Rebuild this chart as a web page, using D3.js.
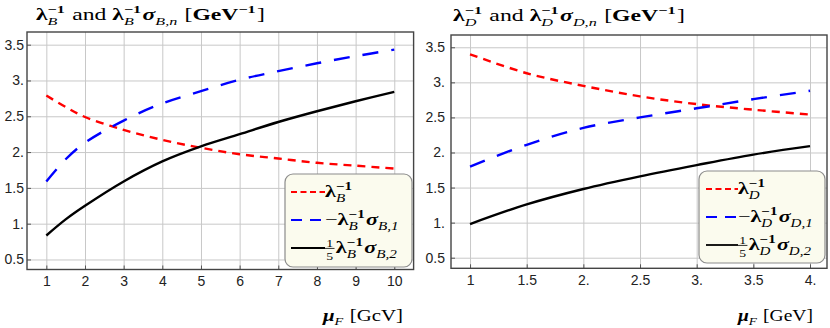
<!DOCTYPE html>
<html><head><meta charset="utf-8">
<script src="https://cdn.jsdelivr.net/npm/d3@7"></script>
<style>
html,body{margin:0;padding:0;background:#fff;}
svg{display:block;}
text{white-space:pre;}
</style>
</head><body>
<svg id="chart" width="830" height="328"></svg>
<script>
// ---------- DATA ----------
const muB = [1, 1.5, 2, 3, 4, 5, 6, 7, 8, 9, 10];
const lamB = [2.79, 2.63, 2.49, 2.31, 2.17, 2.06, 1.97, 1.91, 1.85, 1.81, 1.77];
const sigB1 = [1.59, 1.90, 2.13, 2.44, 2.68, 2.85, 3.01, 3.13, 3.24, 3.34, 3.43];
const sigB2 = [0.835, 1.06, 1.25, 1.59, 1.87, 2.08, 2.25, 2.42, 2.57, 2.71, 2.84];

const muD = [1, 1.5, 2, 2.5, 3, 3.5, 4];
const lamD = [3.40, 3.13, 2.95, 2.80, 2.69, 2.61, 2.54];
const sigD1 = [1.80, 2.11, 2.35, 2.50, 2.63, 2.76, 2.88];
const sigD2 = [0.98, 1.26, 1.48, 1.66, 1.82, 1.97, 2.09];

const yTickVals = [0.5, 1, 1.5, 2, 2.5, 3, 3.5];
const yTickLabels = ["0.5", "1.", "1.5", "2.", "2.5", "3.", "3.5"];
const xTickValsB = [1, 2, 3, 4, 5, 6, 7, 8, 9, 10];
const xTickLabelsB = ["1", "2", "3", "4", "5", "6", "7", "8", "9", "10"];
const xTickValsD = [1, 1.5, 2, 2.5, 3, 3.5, 4];
const xTickLabelsD = ["1", "1.5", "2.", "2.5", "3.", "3.5", "4."];

// ---------- HELPERS ----------
const SERIF = "'Liberation Serif','DejaVu Serif',serif";
const SANS = "'Liberation Sans',Arial,sans-serif";

function addText(g, x, y, s, size, b, i) {
  return g.append("text").attr("x", x).attr("y", y)
    .attr("xml:space", "preserve")
    .style("font-family", SERIF).style("font-size", size + "px")
    .style("font-weight", b ? "bold" : "normal")
    .style("font-style", i ? "italic" : "normal")
    .attr("fill", "#000").text(s);
}
function layout(g, tokens, size, subShift) {
  let cx = 0;
  const ss = subShift === undefined ? 0.3 : subShift;
  tokens.forEach(tok => {
    if (tok.t !== undefined) {
      const el = addText(g, cx, 0, tok.t, size, tok.b, tok.i);
      cx += el.node().getComputedTextLength() + (tok.gap || 0);
    } else if (tok.frac) {
      const fs = size * 0.62;
      const a = addText(g, 0, -size * 0.38, tok.frac[0], fs, false, false);
      const b = addText(g, 0, size * 0.42, tok.frac[1], fs, false, false);
      const wa = a.node().getComputedTextLength(), wb = b.node().getComputedTextLength();
      const w = Math.max(wa, wb) + 2;
      a.attr("x", cx + (w - wa) / 2);
      b.attr("x", cx + (w - wb) / 2);
      g.append("line").attr("x1", cx).attr("x2", cx + w).attr("y1", -size * 0.27).attr("y2", -size * 0.27)
        .attr("stroke", "#000").attr("stroke-width", 0.7);
      cx += w + 1;
    } else {
      let w = 0;
      const fs = size * 0.68;
      if (tok.sup !== undefined) {
        const el = addText(g, cx, -size * 0.4, tok.sup, fs, tok.sb !== false, false);
        w = Math.max(w, el.node().getComputedTextLength());
      }
      if (tok.sub !== undefined) {
        const el = addText(g, cx, size * ss, tok.sub, fs, !!tok.subB, tok.si !== false);
        w = Math.max(w, el.node().getComputedTextLength());
      }
      cx += w + 1;
    }
  });
  return cx;
}
function mathText(parent, x, y, tokens, size, anchor, kx, subShift) {
  const outer = parent.append("g");
  const g = outer.append("g");
  const w = layout(g, tokens, size, subShift);
  const k = kx || 1;
  g.attr("transform", `scale(${k},1)`);
  const dx = anchor === "end" ? -w * k : 0;
  outer.attr("transform", `translate(${x + dx},${y})`);
  return w;
}
function measure(tokens, size) {
  const tmp = d3.select("#chart").append("g");
  const w = layout(tmp, tokens, size);
  tmp.remove();
  return w;
}

const svg = d3.select("#chart");

function drawPanel(cfg) {
  const x = d3.scaleLinear().domain(cfg.xDom).range([cfg.left, cfg.right]);
  const y = d3.scaleLinear().domain(cfg.yDom).range([cfg.bottom, cfg.top]);
  const g = svg.append("g");
  const W = cfg.right - cfg.left, H = cfg.bottom - cfg.top;

  // grid
  g.append("g").attr("transform", `translate(0,${cfg.bottom})`)
    .call(d3.axisBottom(x).tickValues(cfg.xTicks).tickSize(-H).tickFormat(""))
    .call(s => { s.select(".domain").remove(); s.selectAll("line").attr("stroke", "#c8c8c8").attr("stroke-width", 1); });
  g.append("g").attr("transform", `translate(${cfg.left},0)`)
    .call(d3.axisLeft(y).tickValues(yTickVals).tickSize(-W).tickFormat(""))
    .call(s => { s.select(".domain").remove(); s.selectAll("line").attr("stroke", "#c8c8c8").attr("stroke-width", 1); });

  // axes
  const xa = g.append("g").attr("transform", `translate(0,${cfg.bottom})`)
    .call(d3.axisBottom(x).tickValues(cfg.xTicks).tickFormat((d, i) => cfg.xLabels[i]).tickSize(-4).tickPadding(7));
  const ya = g.append("g").attr("transform", `translate(${cfg.left},0)`)
    .call(d3.axisLeft(y).tickValues(yTickVals).tickFormat((d, i) => yTickLabels[i]).tickSize(-4).tickPadding(cfg.ypad));
  [xa, ya].forEach(a => {
    a.select(".domain").remove();
    a.selectAll("line").attr("stroke", "#555").attr("stroke-width", 1);
    a.selectAll("text").style("font-family", SANS).style("font-size", "14px").attr("fill", "#222");
  });

  // lines
  const series = [
    { v: cfg.lam, color: "#ff0000", dash: "8,6" },
    { v: cfg.s1, color: "#0000ff", dash: "16,13" },
    { v: cfg.s2, color: "#000000", dash: null }
  ];
  const line = d3.line().curve(d3.curveCatmullRom.alpha(0.5));
  series.forEach(s => {
    const pts = cfg.mu.map((m, i) => [x(m), y(s.v[i])]);
    g.append("path").attr("d", line(pts)).attr("fill", "none")
      .attr("stroke", s.color).attr("stroke-width", 2.4)
      .attr("stroke-dasharray", s.dash);
  });

  // frame
  g.append("rect").attr("x", cfg.left).attr("y", cfg.top).attr("width", W).attr("height", H)
    .attr("fill", "none").attr("stroke", "#444").attr("stroke-width", 1.4);

  // legend
  const L = cfg.leg;
  g.append("rect").attr("x", L.x).attr("y", L.y).attr("width", L.w).attr("height", L.h)
    .attr("rx", 8).attr("ry", 8).attr("fill", "#fbfbee").attr("stroke", "#8c8c8c").attr("stroke-width", 1.2);
  const legDash = ["6,3.5", "11,8", null];
  const legK = L.row2W / measure(cfg.legTokens[1], L.fs);
  series.forEach((s, i) => {
    const ly = L.rows[i];
    g.append("line").attr("x1", L.lx1).attr("x2", L.lx2).attr("y1", ly).attr("y2", ly)
      .attr("stroke", s.color).attr("stroke-width", 1.8).attr("stroke-dasharray", legDash[i]);
    mathText(g, L.lx2, ly + 5, cfg.legTokens[i], L.fs, null, legK);
  });

  // title
  const tk = cfg.titleW / measure(cfg.titleTokens, 16.5);
  mathText(svg, cfg.titleX, cfg.titleY, cfg.titleTokens, 16.5, null, tk);
  // x label
  const xk = cfg.xlabW / measure(cfg.xlabTokens, 16);
  mathText(svg, cfg.xlabX, cfg.xlabY, cfg.xlabTokens, 16, "end", xk, 0.22);
}

function legTokens(q) {
  const lam = [{ t: "λ", b: 1 }, { sup: "−1", sub: q }];
  return [
    lam,
    [{ t: "−" }].concat(lam, [{ t: "σ", b: 1, i: 1 }, { sub: q + ",1" }]),
    [{ frac: ["1", "5"] }].concat(lam, [{ t: "σ", b: 1, i: 1 }, { sub: q + ",2" }])
  ];
}
function titleTokens(q) {
  return [{ t: "λ", b: 1 }, { sup: "−1", sub: q }, { t: " and " },
    { t: "λ", b: 1 }, { sup: "−1", sub: q }, { t: "σ", b: 1, i: 1 }, { sub: q + ",n" },
    { t: " [" }, { t: "GeV", b: 1 }, { sup: "−1" }, { t: "]" }];
}

drawPanel({
  left: 27, right: 413.6, top: 32, bottom: 269.5,
  xDom: [0.5, 10.5], yDom: [0.36, 3.677], ypad: 3,
  xTicks: xTickValsB, xLabels: xTickLabelsB,
  mu: muB, lam: lamB, s1: sigB1, s2: sigB2,
  leg: { x: 285, y: 174, w: 127, h: 93, rows: [192, 220, 248], lx1: 291, lx2: 325, fs: 17, row2W: 75 },
  legTokens: legTokens("B"),
  titleX: 36, titleY: 20, titleW: 229, titleTokens: titleTokens("B"),
  xlabX: 403, xlabY: 321, xlabW: 80, xlabTokens: [{ t: "μ", b: 1, i: 1 }, { sub: "F" }, { t: " [GcV]" }]
});
drawPanel({
  left: 451, right: 827, top: 35, bottom: 268.3,
  xDom: [0.832, 4.15], yDom: [0.349, 3.675], ypad: 6,
  xTicks: xTickValsD, xLabels: xTickLabelsD,
  mu: muD, lam: lamD, s1: sigD1, s2: sigD2,
  leg: { x: 699, y: 171, w: 126, h: 92, rows: [189, 217, 245], lx1: 706, lx2: 738, fs: 17, row2W: 76 },
  legTokens: legTokens("D"),
  titleX: 453, titleY: 21, titleW: 232, titleTokens: titleTokens("D"),
  xlabX: 813, xlabY: 321, xlabW: 75, xlabTokens: [{ t: "μ", b: 1, i: 1 }, { sub: "F" }, { t: " [GeV]" }]
});
</script>
</body></html>
